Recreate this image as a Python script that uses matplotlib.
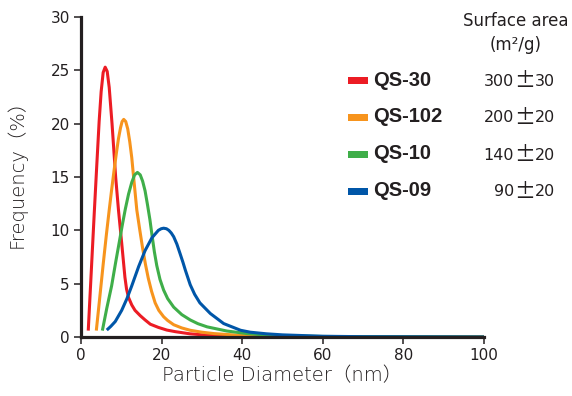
import matplotlib
matplotlib.use("Agg")
import matplotlib.pyplot as plt
from matplotlib.patches import Rectangle


# values
qs30_x = [1.8, 2.3, 2.8, 3.3, 3.9, 4.5, 5.0, 5.5, 6.0, 6.5, 7.0, 7.7, 8.6, 9.3, 10.1, 10.9, 11.3,
          11.8, 12.6, 13.4, 14.7, 15.9, 17.2, 19.2, 21.3, 23.4, 27.0, 32.0, 40.0, 50.0, 60.0, 80.0, 100.0]
qs30_y = [0.6, 4.3, 8.0, 11.7, 16.0, 20.2, 23.0, 24.8, 25.3, 24.9, 23.4, 20.0, 15.0, 11.9, 8.8, 5.6, 4.5,
          3.7, 3.0, 2.5, 2.0, 1.6, 1.2, 0.9, 0.65, 0.5, 0.3, 0.15, 0.06, 0.03, 0.02, 0.01, 0.0]

qs102_x = [3.8, 4.6, 5.5, 6.3, 7.0, 7.6, 8.2, 8.8, 9.3, 9.8, 10.2, 10.6, 11.1, 11.6, 12.1, 12.6, 13.0,
           13.85, 14.6, 15.3, 16.0, 16.7, 17.5, 18.4, 19.3, 20.5, 21.5, 23.0, 25.0, 27.1, 30.0, 33.0,
           40.0, 50.0, 60.0, 80.0, 100.0]
qs102_y = [0.6, 3.5, 6.8, 9.6, 11.9, 13.8, 15.6, 17.3, 18.6, 19.6, 20.2, 20.4, 20.2, 19.5, 18.3, 16.8, 15.2,
           11.9, 10.0, 8.3, 6.8, 5.5, 4.3, 3.2, 2.5, 1.9, 1.55, 1.15, 0.85, 0.63, 0.45, 0.32,
           0.14, 0.05, 0.03, 0.01, 0.0]

qs10_x = [5.3, 6.4, 7.6, 8.6, 9.5, 10.3, 11.0, 11.8, 12.6, 13.3, 14.0, 14.7, 15.3, 15.9, 16.5, 17.1,
          17.6, 18.2, 18.8, 19.6, 20.5, 21.5, 23.0, 25.0, 27.1, 29.0, 31.3, 36.2, 41.2, 46.0, 52.0,
          60.0, 70.0, 100.0]
qs10_y = [0.6, 2.7, 4.8, 7.0, 8.9, 10.6, 12.0, 13.4, 14.5, 15.2, 15.43, 15.2, 14.6, 13.7, 12.4, 11.0,
          9.6, 8.0, 6.7, 5.4, 4.4, 3.6, 2.8, 2.1, 1.6, 1.25, 0.95, 0.56, 0.32, 0.18, 0.1,
          0.05, 0.03, 0.0]

qs09_x = [6.4, 7.4, 8.5, 10.1, 11.4, 12.6, 14.3, 15.9, 17.6, 19.2, 19.9, 20.5, 21.2, 21.8, 22.4, 23.0,
          23.8, 24.6, 25.3, 25.9, 27.1, 28.2, 29.5, 32.1, 35.4, 39.6, 42.0, 46.0, 50.0, 60.0, 70.0, 100.0]
qs09_y = [0.65, 1.0, 1.45, 2.5, 3.6, 4.8, 6.6, 8.1, 9.3, 10.0, 10.15, 10.2, 10.15, 10.0, 9.75, 9.4,
          8.7, 7.8, 7.0, 6.26, 4.9, 4.0, 3.2, 2.2, 1.26, 0.63, 0.45, 0.3, 0.2, 0.07, 0.03, 0.0]

names = ["QS-30", "QS-102", "QS-10", "QS-09"]
area_mid = ["300", "200", "140", "90"]
area_err = ["30", "20", "20", "20"]
colors = ["#ec1c24", "#f7941d", "#3fae49", "#0056a8"]

x_ticks = [0, 20, 40, 60, 80, 100]
y_ticks = [0, 5, 10, 15, 20, 25, 30]

ink = "#231f20"
W, H = 572, 396

fig = plt.figure(figsize=(W / 100, H / 100), dpi=100)
ax = fig.add_axes([81 / W, 1 - 337 / H, (484 - 81) / W, (337 - 17) / H])

series = [(qs30_x, qs30_y), (qs102_x, qs102_y), (qs10_x, qs10_y), (qs09_x, qs09_y)]
for (xs, ys), c in zip(series, colors):
    ax.plot(xs, ys, color=c, lw=2.2, solid_joinstyle="round", solid_capstyle="butt", clip_on=False)

ax.set_xlim(0, 100)
ax.set_ylim(0, 30)
ax.set_xticks(x_ticks)
ax.set_yticks(y_ticks)

for side in ["top", "right"]:
    ax.spines[side].set_visible(False)
for side in ["left", "bottom"]:
    ax.spines[side].set_linewidth(2.3)
    ax.spines[side].set_color(ink)
    ax.spines[side].set_capstyle("projecting")

ax.tick_params(direction="out", length=5, width=1.1, color=ink, labelcolor=ink,
               labelsize=11, pad=3)
for lab in ax.get_xticklabels() + ax.get_yticklabels():
    lab.set_family("DejaVu Sans")

label_font = ["DejaVu Sans", "Noto Sans CJK JP"]
ax.set_xlabel("Particle Diameter（nm）", family=label_font, fontsize=14, color=ink,
              fontweight="light", labelpad=2)
ax.set_ylabel("Frequency（%）", family=label_font, fontsize=14, color=ink,
              fontweight="light")
ax.yaxis.set_label_coords(-0.134, 0.525)

# legend block with surface areas
fig.text(516 / W, 1 - 21 / H, "Surface area", ha="center", va="center",
         fontsize=12, color=ink, family="DejaVu Sans")
fig.text(516 / W, 1 - 45 / H, "(m²/g)", ha="center", va="center",
         fontsize=12, color=ink, family="DejaVu Sans")

renderer = fig.canvas.get_renderer()
row_y = [80, 117, 154, 191]
for yy, name, mid, err, c in zip(row_y, names, area_mid, area_err, colors):
    fig.patches.append(Rectangle((348 / W, 1 - (yy + 3.5) / H), 20 / W, 7 / H,
                                 transform=fig.transFigure, facecolor=c, edgecolor="none"))
    fig.text(373 / W, 1 - yy / H, name, ha="left", va="center", fontsize=14.5,
             fontweight="bold", color=ink, family="Liberation Sans")
    # value column, right aligned; the plus-minus sign is the wide Japanese one
    base = 1 - (yy + 5.5) / H
    right = 555
    for part, fam, size, drop in [(err, "DejaVu Sans", 11.5, 0), ("±", "Noto Sans CJK JP", 15, 1.5),
                                  (mid, "DejaVu Sans", 11.5, 0)]:
        t = fig.text(right / W, base - drop / H, part, ha="right", va="baseline", fontsize=size,
                     color=ink, family=fam)
        right = t.get_window_extent(renderer).x0

fig.savefig("out.png", dpi=100)
